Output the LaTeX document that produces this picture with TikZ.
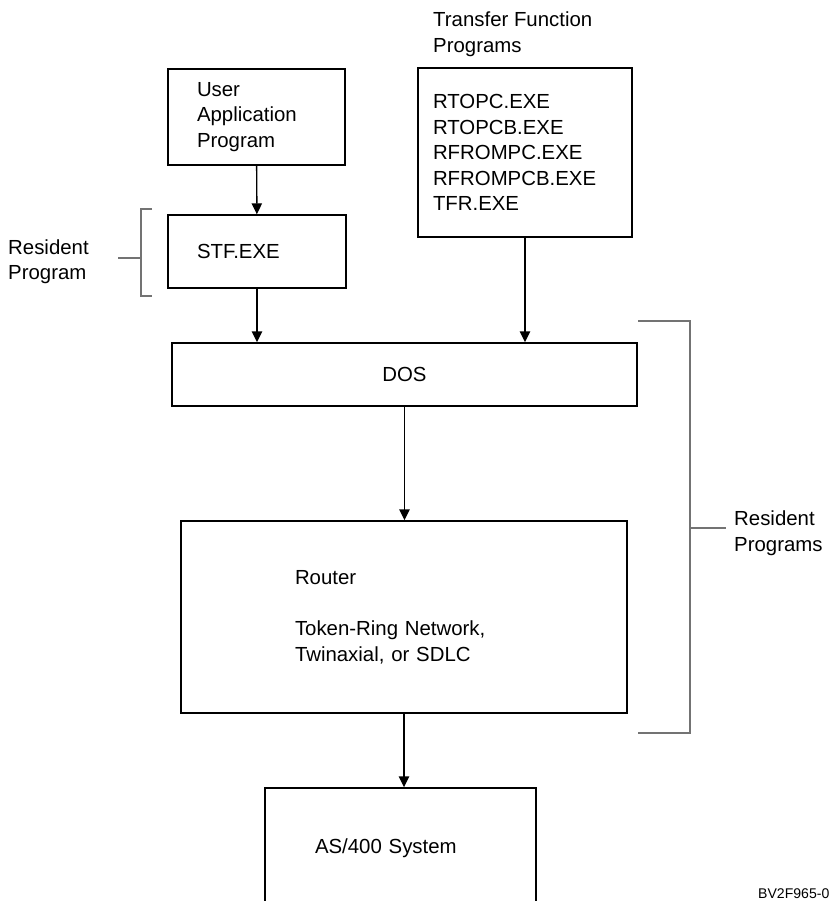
\documentclass[tikz,border=0pt]{standalone}
\usepackage{fontspec}
\setmainfont{Liberation Sans}
\usepackage{tikz}
\usetikzlibrary{shapes, arrows.meta, positioning}

\begin{document}
\begin{tikzpicture}
  [
    x=0.3mm, y=-0.3mm,
    >={Triangle[length=3.3mm, width=3.1mm]},
    font=\fontsize{17.4}{21.8}\selectfont,
    Box/.style={rectangle, draw=black, very thick, inner ysep=0pt, align=left},
    Note/.style={inner sep=0pt, align=left},
    Brace/.style={draw=black!55, very thick}
  ]
  \useasboundingbox (0, 0) rectangle (833, 901);

  % Nodes
  \node[Box, minimum width=53.1mm, minimum height=28.8mm, inner xsep=8.7mm, text width=35.7mm] (v0) at(256.5, 117) {User\\Application\\Program};

  \node[Box, minimum width=53.4mm, minimum height=21.9mm, inner xsep=8.7mm, text width=36mm] (v1) at(257, 251.5) {STF.EXE};

  \node[Box, minimum width=64.2mm, minimum height=50.7mm, inner xsep=4.5mm, text width=55.2mm] (v2) at(525, 152.5) {RTOPC.EXE\\RTOPCB.EXE\\RFROMPC.EXE\\RFROMPCB.EXE\\TFR.EXE};

  \node[Box, minimum width=139.5mm, minimum height=18.9mm, align=center] (v3) at(404.5, 374.5) {DOS};

  \node[Box, minimum width=133.8mm, minimum height=57.6mm, inner xsep=34.2mm, text width=65.4mm] (v4) at(404, 617) {Router\\[21.8pt]Token-Ring Network,\\Twinaxial, or SDLC};

  \node[Box, minimum width=81.3mm, minimum height=36mm, inner xsep=15mm, text width=51.3mm] (v5) at(400.5, 848) {AS/400 System};

  \node[Note, anchor=west] (t0) at(433, 34) {Transfer Function\\Programs};

  \node[Note, anchor=west] (t1) at(8, 261.5) {Resident\\Program};

  \node[Note, anchor=west] (t2) at(734, 533) {Resident\\Programs};

  \node[Note, anchor=south west, font=\fontsize{12}{14}\selectfont] (t3) at(758, 899) {BV2F965-0};

  % Brackets
  \path [Brace] (152, 209) -- (141, 209) -- (141, 296) -- (152, 296);
  \path [Brace] (118, 258) -- (141, 258);
  \path [Brace] (638, 321) -- (690, 321) -- (690, 733) -- (638, 733);
  \path [Brace] (690, 528) -- (726, 528);

  % Lines
  \path [->, draw, very thick] (v0) -- (v1);
  \path [->, draw, very thick] (v1) -- (v1 |- v3.north);
  \path [->, draw, very thick] (v2) -- (v2 |- v3.north);
  \path [->, draw, very thick] (v3) -- (v3 |- v4.north);
  \path [->, draw, very thick] (v4) -- (v4 |- v5.north);

\end{tikzpicture}
\end{document}
